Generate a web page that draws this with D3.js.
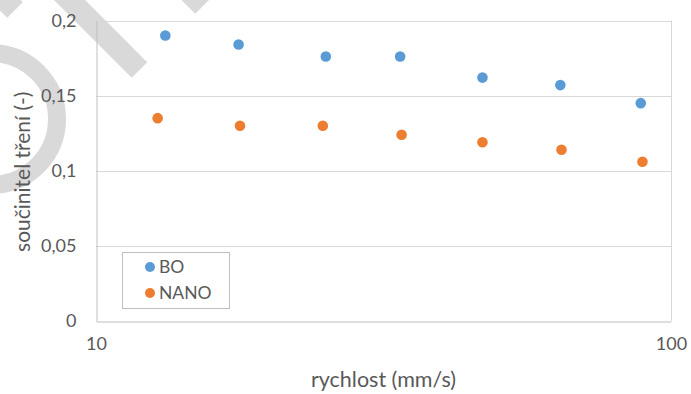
<!DOCTYPE html>
<html>
<head>
<meta charset="utf-8">
<script src="https://cdn.jsdelivr.net/npm/d3@7"></script>
<style>
  html, body { margin: 0; padding: 0; background: #fff; }
  svg { display: block; }
  text { font-family: Lato, "Noto Sans", sans-serif; fill: #595959; }
</style>
</head>
<body>
<svg id="chart" width="691" height="394"></svg>
<script>
// ---- data ----
const speedBO   = [13.2, 17.7, 25.1, 33.8, 47.0, 64.2, 88.6];
const cofBO     = [0.190, 0.184, 0.176, 0.176, 0.162, 0.157, 0.145];
const speedNANO = [12.8, 17.8, 24.8, 34.0, 47.0, 64.5, 89.2];
const cofNANO   = [0.135, 0.130, 0.130, 0.124, 0.119, 0.114, 0.106];
const seriesNames = ["BO", "NANO"];
const yTicks = [0, 0.05, 0.1, 0.15, 0.2];
const yTickLabels = ["0", "0,05", "0,1", "0,15", "0,2"];
const xTicks = [10, 100];
const xTickLabels = ["10", "100"];
const xTitle = "rychlost (mm/s)";
const yTitle = "součinitel tření (-)";

const colors = ["#5B9BD5", "#ED7D31"];

const svg = d3.select("#chart");
const pLeft = 96, pRight = 671, pTop = 20.5, pBottom = 321;

const x = d3.scaleLog().domain([10, 100]).range([pLeft, pRight]);
const y = d3.scaleLinear().domain([0, 0.2]).range([pBottom, pTop]);

// ---- watermark (decorative) ----
const wm = svg.append("g").attr("fill", "none").attr("stroke", "#d9d9d9");
wm.append("circle").attr("cx", -9).attr("cy", 119).attr("r", 66).attr("stroke-width", 18);
[[15, 10], [139.5, 70], [203, 6]].forEach(([cx, cy]) => {
  wm.append("line")
    .attr("x1", cx - 80).attr("y1", cy - 80)
    .attr("x2", cx).attr("y2", cy)
    .attr("stroke-width", 22).attr("stroke-linecap", "butt");
});

// ---- gridlines ----
svg.append("g").selectAll("line").data(yTicks.slice(1)).join("line")
  .attr("x1", pLeft).attr("x2", pRight)
  .attr("y1", d => Math.round(y(d)) + 0.5).attr("y2", d => Math.round(y(d)) + 0.5)
  .attr("stroke", "#d9d9d9").attr("stroke-width", 1);

// right border
svg.append("line").attr("x1", pRight + 0.5).attr("x2", pRight + 0.5)
  .attr("y1", y(0.2)).attr("y2", pBottom).attr("stroke", "#d9d9d9");

// ---- axes ----
const yAxis = d3.axisLeft(y).tickValues(yTicks)
  .tickFormat((d, i) => yTickLabels[i]).tickSize(0).tickPadding(20);
const gy = svg.append("g").attr("transform", `translate(${pLeft + 0.5},0)`).call(yAxis);
gy.select(".domain").attr("stroke", "#bfbfbf");
gy.selectAll("text").style("font-size", "18px").attr("fill", "#595959")
  .style("font-family", "Lato");

const xAxis = d3.axisBottom(x).tickValues(xTicks)
  .tickFormat((d, i) => xTickLabels[i]).tickSize(0).tickPadding(16);
const gx = svg.append("g").attr("transform", `translate(0,${pBottom + 0.5})`).call(xAxis);
gx.select(".domain").attr("stroke", "#bfbfbf");
gx.selectAll("text").style("font-size", "18px").attr("fill", "#595959")
  .style("font-family", "Lato");

// ---- points ----
const series = [
  { name: seriesNames[0], xs: speedBO, ys: cofBO, color: colors[0] },
  { name: seriesNames[1], xs: speedNANO, ys: cofNANO, color: colors[1] }
];
series.forEach(s => {
  svg.append("g").selectAll("circle").data(s.xs.map((v, i) => [v, s.ys[i]])).join("circle")
    .attr("cx", d => x(d[0])).attr("cy", d => y(d[1])).attr("r", 5.3)
    .attr("fill", s.color);
});

// ---- titles ----
svg.append("text").attr("x", (pLeft + pRight) / 2).attr("y", 387)
  .attr("text-anchor", "middle").style("font-size", "21.5px").text(xTitle);
svg.append("text")
  .attr("transform", `translate(30,${(pTop + pBottom) / 2 + 1}) rotate(-90)`)
  .attr("text-anchor", "middle").style("font-size", "21px").text(yTitle);

// ---- legend ----
const lg = svg.append("g");
lg.append("rect").attr("x", 122.5).attr("y", 252.5).attr("width", 107).attr("height", 56)
  .attr("fill", "#fff").attr("stroke", "#bfbfbf");
series.forEach((s, i) => {
  const cy = 267 + i * 26;
  lg.append("circle").attr("cx", 150).attr("cy", cy).attr("r", 5).attr("fill", s.color);
  lg.append("text").attr("x", 159).attr("y", cy).attr("dy", "0.36em")
    .style("font-size", "17.5px").text(s.name);
});
</script>
</body>
</html>
